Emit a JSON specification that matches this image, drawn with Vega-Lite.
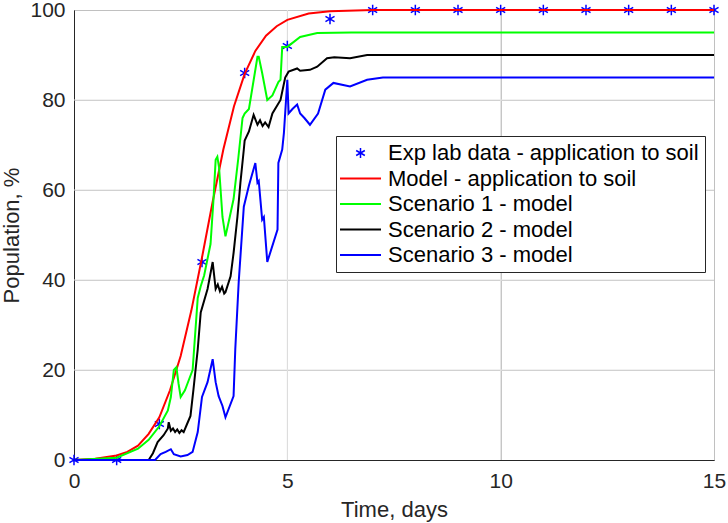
{
  "$schema": "https://vega.github.io/schema/vega-lite/v6.json",
  "width": 640,
  "height": 450,
  "autosize": {"type": "none"},
  "padding": {"left": 74, "top": 10, "right": 14, "bottom": 63},
  "background": "white",
  "config": {
    "font": "Liberation Sans",
    "view": {"stroke": "#262626", "strokeWidth": 1},
    "axis": {
      "domainColor": "#262626",
      "tickColor": "#262626",
      "labelColor": "#262626",
      "titleColor": "#262626",
      "labelFont": "Liberation Sans",
      "titleFont": "Liberation Sans",
      "labelFontSize": 21,
      "titleFontSize": 22,
      "titleFontWeight": "normal",
      "grid": true,
      "gridColor": "#c0c0c0",
      "gridWidth": 1,
      "gridOpacity": 1,
      "ticks": false,
      "labelFlush": false
    }
  },
  "datasets": {
    "exp": [
      {"s": "E", "t": 0, "p": 0}, {"s": "E", "t": 1, "p": 0}, {"s": "E", "t": 2, "p": 8},
      {"s": "E", "t": 3, "p": 44}, {"s": "E", "t": 4, "p": 86}, {"s": "E", "t": 5, "p": 92},
      {"s": "E", "t": 6, "p": 98}, {"s": "E", "t": 7, "p": 100}, {"s": "E", "t": 8, "p": 100},
      {"s": "E", "t": 9, "p": 100}, {"s": "E", "t": 10, "p": 100}, {"s": "E", "t": 11, "p": 100},
      {"s": "E", "t": 12, "p": 100}, {"s": "E", "t": 13, "p": 100}, {"s": "E", "t": 14, "p": 100},
      {"s": "E", "t": 15, "p": 100}
    ],
    "grid": [
      {"t": 5, "p": 20}, {"t": 10, "p": 40}, {"t": null, "p": 60}, {"t": null, "p": 80}
    ],
    "lines": [
      {"s": "M", "t": 0, "p": 0}, {"s": "M", "t": 0.5, "p": 0.3}, {"s": "M", "t": 1, "p": 1.0},
      {"s": "M", "t": 1.25, "p": 1.8}, {"s": "M", "t": 1.5, "p": 3.2}, {"s": "M", "t": 1.75, "p": 5.8},
      {"s": "M", "t": 2, "p": 9.5}, {"s": "M", "t": 2.25, "p": 15.5}, {"s": "M", "t": 2.5, "p": 23.1},
      {"s": "M", "t": 2.75, "p": 33.2}, {"s": "M", "t": 3, "p": 45}, {"s": "M", "t": 3.25, "p": 57.4},
      {"s": "M", "t": 3.5, "p": 69}, {"s": "M", "t": 3.75, "p": 78.6}, {"s": "M", "t": 4, "p": 85.8},
      {"s": "M", "t": 4.25, "p": 90.9}, {"s": "M", "t": 4.5, "p": 94.3}, {"s": "M", "t": 4.75, "p": 96.4},
      {"s": "M", "t": 5, "p": 97.8}, {"s": "M", "t": 5.5, "p": 99.2}, {"s": "M", "t": 6, "p": 99.7},
      {"s": "M", "t": 7, "p": 100}, {"s": "M", "t": 15, "p": 100},

      {"s": "S1", "t": 0, "p": 0}, {"s": "S1", "t": 1, "p": 0.5}, {"s": "S1", "t": 1.5, "p": 2.5},
      {"s": "S1", "t": 1.75, "p": 4.5}, {"s": "S1", "t": 2, "p": 7.5}, {"s": "S1", "t": 2.2, "p": 11},
      {"s": "S1", "t": 2.27, "p": 14}, {"s": "S1", "t": 2.34, "p": 20}, {"s": "S1", "t": 2.4, "p": 20.6},
      {"s": "S1", "t": 2.45, "p": 17}, {"s": "S1", "t": 2.5, "p": 14}, {"s": "S1", "t": 2.6, "p": 15.5},
      {"s": "S1", "t": 2.7, "p": 18}, {"s": "S1", "t": 2.78, "p": 20}, {"s": "S1", "t": 2.9, "p": 36},
      {"s": "S1", "t": 2.97, "p": 38.6}, {"s": "S1", "t": 3.05, "p": 41}, {"s": "S1", "t": 3.2, "p": 48},
      {"s": "S1", "t": 3.27, "p": 58}, {"s": "S1", "t": 3.32, "p": 66.7}, {"s": "S1", "t": 3.36, "p": 67.4},
      {"s": "S1", "t": 3.4, "p": 65}, {"s": "S1", "t": 3.48, "p": 54}, {"s": "S1", "t": 3.55, "p": 49.7},
      {"s": "S1", "t": 3.65, "p": 54}, {"s": "S1", "t": 3.74, "p": 58}, {"s": "S1", "t": 3.85, "p": 67},
      {"s": "S1", "t": 3.95, "p": 76}, {"s": "S1", "t": 4.0, "p": 77}, {"s": "S1", "t": 4.1, "p": 78},
      {"s": "S1", "t": 4.3, "p": 89.6}, {"s": "S1", "t": 4.33, "p": 89.6}, {"s": "S1", "t": 4.41, "p": 86},
      {"s": "S1", "t": 4.53, "p": 80}, {"s": "S1", "t": 4.65, "p": 81}, {"s": "S1", "t": 4.79, "p": 84},
      {"s": "S1", "t": 4.84, "p": 84.5}, {"s": "S1", "t": 4.88, "p": 91.8}, {"s": "S1", "t": 5.0, "p": 91.8},
      {"s": "S1", "t": 5.3, "p": 94}, {"s": "S1", "t": 5.7, "p": 94.9}, {"s": "S1", "t": 6.5, "p": 95},
      {"s": "S1", "t": 15, "p": 95},

      {"s": "S2", "t": 0, "p": 0}, {"s": "S2", "t": 1.75, "p": 0}, {"s": "S2", "t": 1.85, "p": 1.5},
      {"s": "S2", "t": 1.96, "p": 4}, {"s": "S2", "t": 2.1, "p": 5.5}, {"s": "S2", "t": 2.2, "p": 7},
      {"s": "S2", "t": 2.22, "p": 8.4}, {"s": "S2", "t": 2.27, "p": 6.5}, {"s": "S2", "t": 2.32, "p": 7},
      {"s": "S2", "t": 2.37, "p": 6.2}, {"s": "S2", "t": 2.42, "p": 6.8}, {"s": "S2", "t": 2.47, "p": 6},
      {"s": "S2", "t": 2.52, "p": 6.6}, {"s": "S2", "t": 2.57, "p": 6.2}, {"s": "S2", "t": 2.65, "p": 8},
      {"s": "S2", "t": 2.73, "p": 9.8}, {"s": "S2", "t": 2.8, "p": 15.7}, {"s": "S2", "t": 2.9, "p": 24.6},
      {"s": "S2", "t": 2.97, "p": 32.8}, {"s": "S2", "t": 3.13, "p": 38}, {"s": "S2", "t": 3.25, "p": 44},
      {"s": "S2", "t": 3.32, "p": 38}, {"s": "S2", "t": 3.37, "p": 39}, {"s": "S2", "t": 3.42, "p": 37.5},
      {"s": "S2", "t": 3.47, "p": 38.5}, {"s": "S2", "t": 3.52, "p": 37}, {"s": "S2", "t": 3.55, "p": 37.3},
      {"s": "S2", "t": 3.67, "p": 40.8}, {"s": "S2", "t": 3.74, "p": 46}, {"s": "S2", "t": 3.83, "p": 54},
      {"s": "S2", "t": 3.9, "p": 61.6}, {"s": "S2", "t": 3.98, "p": 69}, {"s": "S2", "t": 4.0, "p": 71},
      {"s": "S2", "t": 4.1, "p": 73}, {"s": "S2", "t": 4.21, "p": 76.7}, {"s": "S2", "t": 4.3, "p": 74.5},
      {"s": "S2", "t": 4.36, "p": 75.5}, {"s": "S2", "t": 4.42, "p": 74.2}, {"s": "S2", "t": 4.48, "p": 75},
      {"s": "S2", "t": 4.56, "p": 74}, {"s": "S2", "t": 4.65, "p": 77}, {"s": "S2", "t": 4.84, "p": 80},
      {"s": "S2", "t": 4.95, "p": 85}, {"s": "S2", "t": 5.03, "p": 86.3}, {"s": "S2", "t": 5.23, "p": 87},
      {"s": "S2", "t": 5.3, "p": 86.5}, {"s": "S2", "t": 5.53, "p": 86.7}, {"s": "S2", "t": 5.7, "p": 87.4},
      {"s": "S2", "t": 5.93, "p": 89.3}, {"s": "S2", "t": 6.1, "p": 89.5}, {"s": "S2", "t": 6.47, "p": 89.3},
      {"s": "S2", "t": 6.87, "p": 90}, {"s": "S2", "t": 15, "p": 90},

      {"s": "S3", "t": 0, "p": 0}, {"s": "S3", "t": 1.9, "p": 0}, {"s": "S3", "t": 2.03, "p": 1.3},
      {"s": "S3", "t": 2.15, "p": 1.8}, {"s": "S3", "t": 2.27, "p": 2.4}, {"s": "S3", "t": 2.34, "p": 1.3},
      {"s": "S3", "t": 2.5, "p": 0.8}, {"s": "S3", "t": 2.66, "p": 1.1}, {"s": "S3", "t": 2.78, "p": 1.8},
      {"s": "S3", "t": 2.9, "p": 6.2}, {"s": "S3", "t": 3.0, "p": 14}, {"s": "S3", "t": 3.13, "p": 17.3},
      {"s": "S3", "t": 3.25, "p": 22.4}, {"s": "S3", "t": 3.32, "p": 17.3}, {"s": "S3", "t": 3.39, "p": 14.2},
      {"s": "S3", "t": 3.48, "p": 12}, {"s": "S3", "t": 3.55, "p": 9.5}, {"s": "S3", "t": 3.74, "p": 14.2},
      {"s": "S3", "t": 3.78, "p": 24.6}, {"s": "S3", "t": 3.86, "p": 39.5}, {"s": "S3", "t": 3.98, "p": 56.3},
      {"s": "S3", "t": 4.1, "p": 61}, {"s": "S3", "t": 4.25, "p": 66}, {"s": "S3", "t": 4.3, "p": 61.6},
      {"s": "S3", "t": 4.33, "p": 62}, {"s": "S3", "t": 4.41, "p": 53.4}, {"s": "S3", "t": 4.45, "p": 54},
      {"s": "S3", "t": 4.53, "p": 44}, {"s": "S3", "t": 4.77, "p": 51.2}, {"s": "S3", "t": 4.79, "p": 66},
      {"s": "S3", "t": 4.88, "p": 69}, {"s": "S3", "t": 4.92, "p": 72.7}, {"s": "S3", "t": 5.0, "p": 84.5},
      {"s": "S3", "t": 5.03, "p": 77}, {"s": "S3", "t": 5.12, "p": 78}, {"s": "S3", "t": 5.23, "p": 79},
      {"s": "S3", "t": 5.3, "p": 77}, {"s": "S3", "t": 5.4, "p": 76}, {"s": "S3", "t": 5.53, "p": 74.5},
      {"s": "S3", "t": 5.72, "p": 77}, {"s": "S3", "t": 5.89, "p": 82.3}, {"s": "S3", "t": 6.08, "p": 83.8},
      {"s": "S3", "t": 6.47, "p": 83}, {"s": "S3", "t": 6.87, "p": 84.5}, {"s": "S3", "t": 7.24, "p": 85},
      {"s": "S3", "t": 15, "p": 85}
    ]
  },
  "encoding": {
    "x": {
      "field": "t", "type": "quantitative",
      "scale": {"domain": [0, 15], "nice": false},
      "axis": {"grid": true, "values": [0, 5, 10, 15], "title": "Time, days", "labelPadding": 10, "titlePadding": 8}
    },
    "y": {
      "field": "p", "type": "quantitative",
      "scale": {"domain": [0, 100], "nice": false},
      "axis": {"grid": true, "values": [0, 20, 40, 60, 80, 100], "title": "Population, %", "labelPadding": 9, "titlePadding": 6}
    }
  },
  "layer": [
    {
      "data": {"name": "grid"},
      "mark": {"type": "rule", "color": "#e2e2e2", "strokeWidth": 1},
      "encoding": {
        "x": {"field": "t", "type": "quantitative"},
        "y": null
      }
    },
    {
      "data": {"name": "grid"},
      "mark": {"type": "rule", "color": "#e2e2e2", "strokeWidth": 1},
      "encoding": {
        "y": {"field": "p", "type": "quantitative"},
        "x": null
      }
    },
    {
      "data": {"name": "exp"},
      "mark": {
        "type": "point",
        "shape": "M0,-1L0,1M-0.866,-0.5L0.866,0.5M-0.866,0.5L0.866,-0.5",
        "filled": false,
        "size": 110,
        "strokeWidth": 1.5,
        "opacity": 1
      },
      "encoding": {
        "color": {"field": "s", "type": "nominal"}
      }
    },
    {
      "data": {"name": "lines"},
      "mark": {"type": "line", "strokeWidth": 2, "interpolate": "linear"},
      "encoding": {
        "color": {
          "field": "s", "type": "nominal",
          "scale": {
            "domain": ["E", "M", "S1", "S2", "S3"],
            "range": ["#0000ff", "#ff0000", "#00ff00", "#000000", "#0000ff"]
          },
          "legend": {
            "orient": "none",
            "legendX": 262,
            "legendY": 126,
            "title": null,
            "padding": 6,
            "fillColor": "white",
            "strokeColor": "#262626",
            "symbolSize": 100,
            "symbolStrokeWidth": 2,
            "symbolType": "stroke",
            "labelFont": "Liberation Sans",
            "labelFontSize": 22,
            "labelColor": "#000000",
            "labelOffset": 24,
            "labelLimit": 0,
            "rowPadding": 3.5,
            "labelExpr": "datum.value == 'E' ? 'Exp lab data - application to soil' : datum.value == 'M' ? 'Model - application to soil' : datum.value == 'S1' ? 'Scenario 1 - model' : datum.value == 'S2' ? 'Scenario 2 - model' : 'Scenario 3 - model'",
            "encode": {
              "symbols": {
                "update": {
                  "shape": {"signal": "datum.value == 'E' ? 'M1.5,-1L1.5,1M0.634,-0.5L2.366,0.5M0.634,0.5L2.366,-0.5' : 'M-2.6,0L5.6,0'"},
                  "strokeWidth": {"signal": "datum.value == 'E' ? 1.5 : 2"}
                }
              }
            }
          }
        }
      }
    }
  ]
}
